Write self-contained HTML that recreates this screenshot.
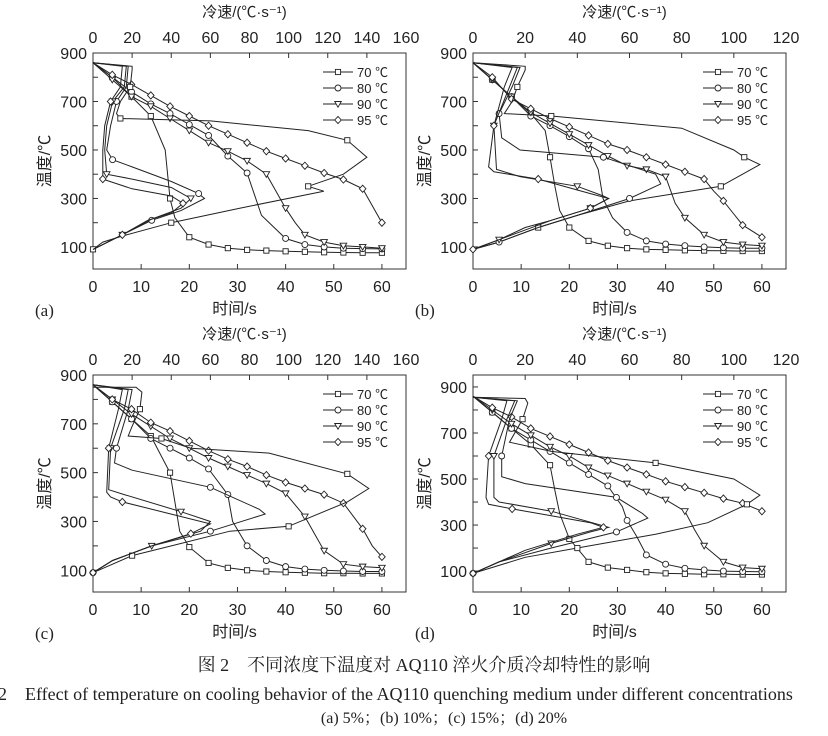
<!DOCTYPE html>
<html><head><meta charset="utf-8">
<style>
html,body{margin:0;padding:0;background:#fff;}
body{width:828px;height:736px;overflow:hidden;position:relative;}
svg{position:absolute;left:0;top:0;}
text{font-family:"Liberation Sans","Noto Sans CJK SC",sans-serif;fill:#222;}
.cap{font-family:"Liberation Serif","Noto Serif CJK SC",serif;}
</style></head>
<body>
<svg id="fig" width="828" height="736" viewBox="0 0 828 736">
<text class="cap" x="424" y="671" font-size="18" text-anchor="middle">图 2　不同浓度下温度对 AQ110 淬火介质冷却特性的影响</text>
<text class="cap" x="-2" y="700" font-size="18">2　Effect of temperature on cooling behavior of the AQ110 quenching medium under different concentrations</text>
<text class="cap" x="444" y="723" font-size="16" text-anchor="middle">(a) 5%；(b) 10%；(c) 15%；(d) 20%</text>
</svg>
<script>
// ---- Panel (a) data: time curves [time s, temp °C]
const aTime70=[[0,860],[4,800],[8,720],[12,640],[15,500],[16,300],[17,220],[20,140],[24,110],[28,95],[32,88],[36,85],[40,82],[44,80],[48,78],[52,77],[56,76],[60,76]];
const aTime80=[[0,860],[4,800],[8,740],[12,690],[16,650],[20,605],[24,560],[28,475],[32,405],[35,230],[40,135],[44,110],[48,100],[52,95],[56,93],[60,92]];
const aTime90=[[0,860],[4,790],[8,720],[12,680],[16,630],[20,580],[24,530],[28,495],[32,455],[36,400],[38,330],[40,260],[42,200],[44,150],[48,120],[52,105],[56,100],[60,95]];
const aTime95=[[0,860],[4,810],[8,770],[12,725],[16,680],[20,640],[24,600],[28,565],[32,530],[36,495],[40,465],[44,435],[48,405],[52,378],[56,340],[60,200]];
// rate curves [rate °C/s, temp]
const aRate70=[[0,860],[20,845],[20,830],[19,760],[14,700],[12,650],[14,630],[60,620],[110,580],[130,540],[140,470],[128,400],[110,350],[118,330],[75,260],[40,200],[15,145],[5,120],[0,90]];
const aRate80=[[0,860],[18,845],[17,760],[12,700],[9,600],[7,500],[10,460],[20,430],[40,370],[54,320],[57,300],[45,250],[30,210],[15,150],[0,90]];
const aRate90=[[0,860],[17,845],[16,760],[10,700],[7,600],[6,500],[7,400],[20,380],[40,345],[50,300],[45,260],[30,215],[15,150],[0,90]];
const aRate95=[[0,860],[15,845],[14,760],[9,700],[6,600],[5,500],[5,380],[20,340],[40,310],[46,280],[40,240],[28,210],[15,150],[0,90]];
// ---- Panel (b)
const bTime70=[[0,860],[4,790],[8,720],[12,650],[15,580],[16,470],[17,350],[18,250],[20,180],[24,125],[28,105],[32,95],[36,90],[40,88],[44,86],[48,85],[52,84],[56,83],[60,83]];
const bTime80=[[0,860],[4,790],[8,720],[12,640],[16,600],[20,555],[24,505],[26,420],[27,300],[29,220],[32,160],[36,125],[40,112],[44,105],[48,100],[52,97],[56,95],[60,95]];
const bTime90=[[0,860],[4,790],[8,720],[12,655],[16,610],[20,565],[24,520],[28,475],[32,435],[36,420],[40,390],[42,280],[44,220],[48,150],[52,120],[56,110],[60,105]];
const bTime95=[[0,860],[4,800],[8,710],[12,670],[16,630],[20,595],[24,560],[28,525],[32,500],[36,470],[40,440],[44,410],[48,380],[50,330],[52,290],[54,240],[56,190],[60,140]];
const bRate70=[[0,860],[20,845],[20,830],[17,760],[15,700],[12,650],[30,640],[80,590],[100,500],[104,470],[110,440],[100,380],[95,350],[60,290],[40,230],[25,180],[10,120],[0,90]];
const bRate80=[[0,860],[18,840],[15,760],[10,650],[11,550],[18,500],[50,470],[70,400],[72,360],[60,300],[40,230],[25,180],[10,120],[0,90]];
const bRate90=[[0,860],[17,840],[14,760],[8,600],[9,420],[18,390],[40,350],[50,310],[52,300],[45,260],[30,210],[20,180],[10,130],[0,90]];
const bRate95=[[0,860],[15,840],[12,760],[8,600],[6,430],[8,410],[25,380],[45,320],[52,300],[45,260],[30,210],[10,130],[0,90]];
// ---- Panel (c)
const cTime70=[[0,860],[4,790],[8,720],[12,650],[16,500],[17,380],[18,260],[20,195],[24,130],[28,110],[32,100],[36,95],[40,92],[44,90],[48,88],[52,88],[56,87],[60,87]];
const cTime80=[[0,860],[4,790],[8,720],[12,640],[16,600],[20,560],[24,515],[28,410],[29,300],[32,200],[36,140],[40,115],[44,105],[48,100],[52,97],[56,95],[60,95]];
const cTime90=[[0,860],[4,800],[8,740],[12,690],[16,640],[20,600],[24,560],[28,525],[32,490],[36,455],[40,415],[44,320],[46,250],[48,180],[52,125],[56,115],[60,110]];
const cTime95=[[0,860],[4,800],[8,760],[12,705],[16,670],[20,630],[24,590],[28,555],[32,525],[36,490],[40,460],[44,435],[48,410],[52,375],[56,270],[58,200],[60,155]];
const cRate70=[[0,850],[22,850],[25,830],[24,760],[20,690],[18,650],[35,640],[50,600],[90,580],[130,495],[141,435],[130,380],[100,280],[70,260],[40,200],[20,160],[0,90]];
const cRate80=[[0,860],[20,840],[18,760],[12,600],[11,540],[20,510],[60,440],[85,350],[88,330],[60,260],[30,200],[10,140],[0,90]];
const cRate90=[[0,860],[18,840],[16,760],[9,600],[8,430],[16,410],[45,340],[60,300],[55,260],[30,200],[10,140],[0,90]];
const cRate95=[[0,860],[15,840],[13,760],[8,600],[7,420],[9,400],[15,380],[40,330],[60,290],[50,250],[30,200],[10,140],[0,90]];
// ---- Panel (d)
const dTime70=[[0,860],[4,790],[8,720],[12,650],[16,560],[17,450],[18,350],[20,240],[24,140],[28,115],[32,105],[36,95],[40,90],[44,88],[48,86],[52,86],[56,85],[60,85]];
const dTime80=[[0,860],[4,790],[8,720],[12,670],[16,620],[20,570],[24,520],[28,470],[31,380],[32,320],[34,250],[36,170],[40,130],[44,112],[48,105],[52,100],[56,98],[60,97]];
const dTime90=[[0,860],[4,800],[8,740],[12,690],[16,640],[20,600],[24,550],[28,515],[32,480],[36,445],[40,410],[44,360],[46,280],[48,210],[52,140],[56,115],[60,110]];
const dTime95=[[0,860],[4,810],[8,770],[12,720],[16,685],[20,650],[24,615],[28,580],[32,550],[36,520],[40,490],[44,465],[48,440],[52,415],[56,395],[60,360]];
const dRate70=[[0,855],[20,850],[21,830],[19,760],[14,660],[30,620],[70,570],[100,500],[110,430],[105,390],[90,310],[70,260],[40,200],[20,160],[0,90]];
const dRate80=[[0,855],[17,840],[14,760],[11,600],[11,510],[20,480],[55,420],[65,350],[67,330],[55,270],[30,200],[10,140],[0,90]];
const dRate90=[[0,855],[16,840],[13,760],[8,600],[8,420],[10,400],[30,360],[52,290],[45,270],[30,220],[10,140],[0,90]];
const dRate95=[[0,855],[13,840],[11,760],[6,600],[5,420],[6,390],[15,370],[30,340],[45,310],[50,290],[40,260],[20,190],[0,90]];
// axis tick labels
const yTickLabels=[100,300,500,700,900];
const xTickLabels=[0,10,20,30,40,50,60];
const topTicks160=[0,20,40,60,80,100,120,140,160];
const topTicks120=[0,20,40,60,80,100,120];
const legendLabels=["70 ℃","80 ℃","90 ℃","95 ℃"];
const markerKinds=["square","circle","tri","diamond"];

const NS="http://www.w3.org/2000/svg";
const svg=document.getElementById('fig');
function mk(tag,attrs,parent){const e=document.createElementNS(NS,tag);for(const k in attrs)e.setAttribute(k,attrs[k]);(parent||svg).appendChild(e);return e;}
function txt(s,x,y,size,anchor,parent){const t=mk('text',{x:x,y:y,'font-size':size,'text-anchor':anchor||'middle'},parent);t.textContent=s;return t;}

const panels=[
 {id:'a',l:93,t:53,r:406,b:269,yTop:900,yBot:9,rateMax:160,ticksTop:topTicks160,time:[aTime70,aTime80,aTime90,aTime95],rate:[aRate70,aRate80,aRate90,aRate95]},
 {id:'b',l:473,t:53,r:786,b:269,yTop:900,yBot:9,rateMax:120,ticksTop:topTicks120,time:[bTime70,bTime80,bTime90,bTime95],rate:[bRate70,bRate80,bRate90,bRate95]},
 {id:'c',l:93,t:375,r:406,b:592,yTop:900,yBot:11,rateMax:160,ticksTop:topTicks160,time:[cTime70,cTime80,cTime90,cTime95],rate:[cRate70,cRate80,cRate90,cRate95]},
 {id:'d',l:473,t:375,r:786,b:592,yTop:952,yBot:9,rateMax:120,ticksTop:topTicks120,time:[dTime70,dTime80,dTime90,dTime95],rate:[dRate70,dRate80,dRate90,dRate95]}
];

function marker(kind,x,y,g){
 let e;
 if(kind==='square'){e=mk('rect',{x:x-2.6,y:y-2.6,width:5.2,height:5.2},g);}
 else if(kind==='circle'){e=mk('circle',{cx:x,cy:y,r:3},g);}
 else if(kind==='tri'){e=mk('polygon',{points:`${x-3.3},${y-2.5} ${x+3.3},${y-2.5} ${x},${y+3.2}`},g);}
 else {e=mk('polygon',{points:`${x},${y-3.6} ${x+3.3},${y} ${x},${y+3.6} ${x-3.3},${y}`},g);}
 e.setAttribute('fill','#fff');e.setAttribute('stroke','#222');e.setAttribute('stroke-width','0.9');
 
 
}

panels.forEach(p=>{
 const g=mk('g',{});
 
 
 const xs=v=>p.l+(v/65)*(p.r-p.l);
 const xr=v=>p.l+(v/p.rateMax)*(p.r-p.l);
 const ys=v=>p.b-(v-p.yBot)/(p.yTop-p.yBot)*(p.b-p.t);
 const frame=mk('rect',{x:p.l,y:p.t,width:p.r-p.l,height:p.b-p.t,fill:'none',stroke:'#333','stroke-width':1},g);
 
 
 for(let v=100;v<=900;v+=100){const y=ys(v);mk('line',{x1:p.l,x2:p.l+5,y1:y,y2:y,stroke:'#333'},g);}
 yTickLabels.forEach(v=>{const t=txt(String(v),p.l-6,ys(v)+6,16,'end',g);
  
  });
 for(let v=0;v<=60;v+=10){const x=xs(v);mk('line',{x1:x,x2:x,y1:p.b,y2:p.b-5,stroke:'#333'},g);}
 xTickLabels.forEach(v=>{const t=txt(String(v),xs(v),p.b+23,16,'middle',g);
  
  });
 p.ticksTop.forEach(v=>{const x=xr(v);mk('line',{x1:x,x2:x,y1:p.t,y2:p.t+5,stroke:'#333'},g);
  const t=txt(String(v),x,p.t-10,16,'middle',g);
  
  });
 const tt=txt('冷速/(℃·s⁻¹)',(p.l+p.r)/2-5,p.t-36,15,'middle',g);
 
 
 const bt=txt('时间/s',(p.l+p.r)/2-15,p.b+45,16,'middle',g);
 
 
 const yt=txt('温度/℃',0,0,16,'middle',g);
 yt.setAttribute('transform',`translate(${p.l-43},${(p.t+p.b)/2}) rotate(-90)`);
 
 
 const pl=txt('('+p.id+')',p.l-58,p.b+47,17,'start',g);
 pl.setAttribute('class','cap');
 
 
 p.time.forEach((s,i)=>{
  const d=s.map((q,k)=>(k?'L':'M')+xs(q[0]).toFixed(1)+','+ys(q[1]).toFixed(1)).join(' ');
  const path=mk('path',{d:d,fill:'none',stroke:'#222','stroke-width':1},g);
  
  
  s.forEach(q=>{if(q[0]>0&&q[0]%4===0)marker(markerKinds[i],xs(q[0]),ys(q[1]),g);});
 });
 p.rate.forEach((s,i)=>{
  const d=s.map((q,k)=>(k?'L':'M')+xr(q[0]).toFixed(1)+','+ys(q[1]).toFixed(1)).join(' ');
  const path=mk('path',{d:d,fill:'none',stroke:'#222','stroke-width':1},g);
  
  
  s.forEach((q,k)=>{if(k>1&&k%3===0)marker(markerKinds[i],xr(q[0]),ys(q[1]),g);});
 });
 const lg=mk('g',{},g);
 
 
 legendLabels.forEach((lab,i)=>{
  const y=p.t+19+i*16;
  const lx=p.l+230;
  mk('line',{x1:lx,x2:lx+30,y1:y,y2:y,stroke:'#222','stroke-width':1},lg);
  marker(markerKinds[i],lx+15,y,lg);
  const t=txt(lab,lx+34,y+5,13,'start',lg);
  
  
 });
});
</script>
</body></html>
